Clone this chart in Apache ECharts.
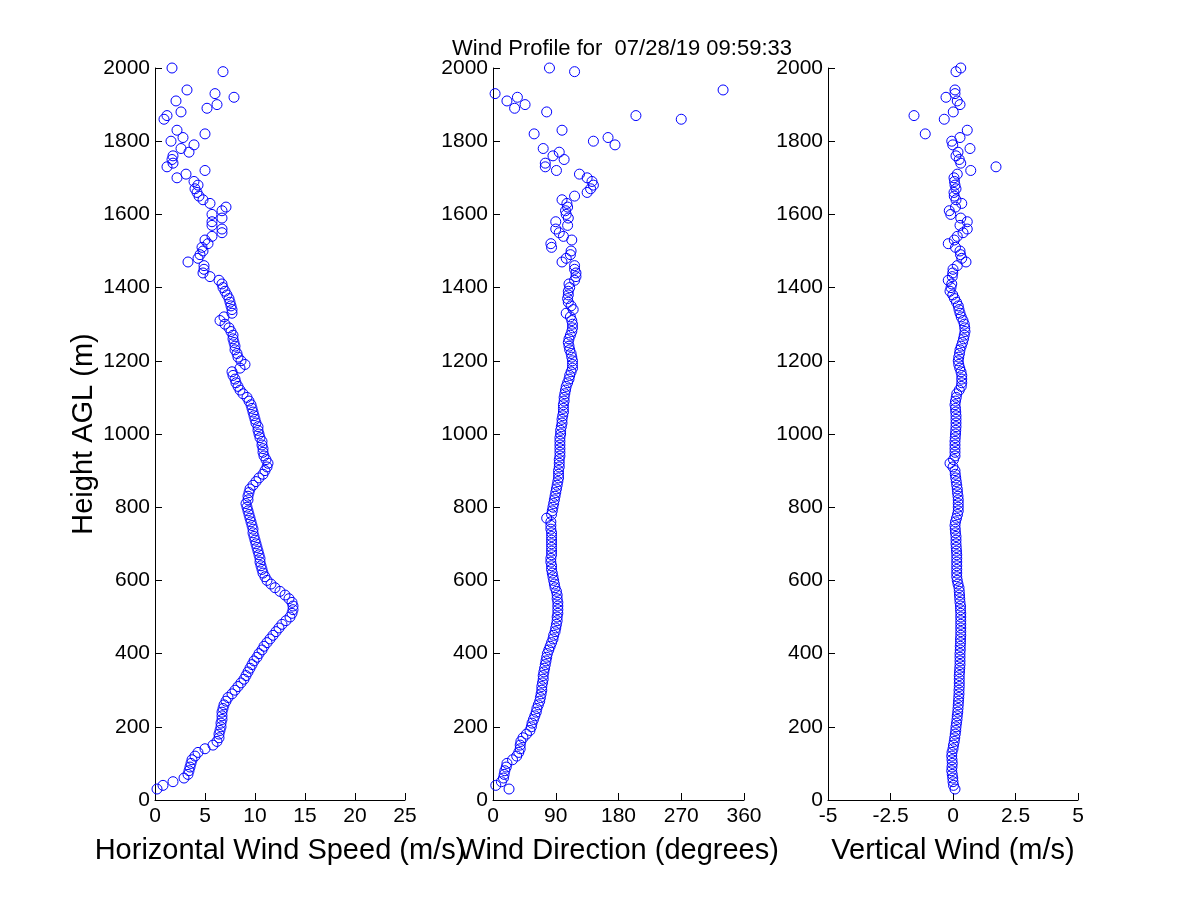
<!DOCTYPE html>
<html>
<head>
<meta charset="utf-8">
<title>Wind Profile</title>
<script src="https://cdn.jsdelivr.net/npm/echarts@6/dist/echarts.min.js"></script>
<style>
  html, body { margin: 0; padding: 0; background: #fff; }
  #main { width: 1200px; height: 900px; }
</style>
</head>
<body>
<div id="main"></div>
<script>
// heights of the range gates (m AGL), one row = 100 m
var heights = [
  30, 40, 50, 60, 70, 80, 90, 100, 110, 120,
  130, 140, 150, 160, 170, 180, 190, 200, 210, 220,
  230, 240, 250, 260, 270, 280, 290, 300, 310, 320,
  330, 340, 350, 360, 370, 380, 390, 400, 410, 420,
  430, 440, 450, 460, 470, 480, 490, 500, 510, 520,
  530, 540, 550, 560, 570, 580, 590, 600, 610, 620,
  630, 640, 650, 660, 670, 680, 690, 700, 710, 720,
  730, 740, 750, 760, 770, 780, 790, 800, 810, 820,
  830, 840, 850, 860, 870, 880, 890, 900, 910, 920,
  930, 940, 950, 960, 970, 980, 990, 1000, 1010, 1020,
  1030, 1040, 1050, 1060, 1070, 1080, 1090, 1100, 1110, 1120,
  1130, 1140, 1150, 1160, 1170, 1180, 1190, 1200, 1210, 1220,
  1230, 1240, 1250, 1260, 1270, 1280, 1290, 1300, 1310, 1320,
  1330, 1340, 1350, 1360, 1370, 1380, 1390, 1400, 1410, 1420,
  1430, 1440, 1450, 1460, 1470, 1480, 1490, 1500, 1510, 1520,
  1530, 1540, 1550, 1560, 1570, 1580, 1590, 1600, 1610, 1620,
  1630, 1640, 1650, 1660, 1670, 1680, 1690, 1700, 1710, 1720,
  1730, 1740, 1750, 1760, 1770, 1780, 1790, 1800, 1810, 1820,
  1830, 1840, 1850, 1860, 1870, 1880, 1890, 1900, 1910, 1920,
  1930, 1940, 1950, 1960, 1970, 1980, 1990, 2000
];

// horizontal wind speed (m/s)
var speed = [
  0.2, 0.8, 1.8, 2.9, 3.3, 3.4, 3.5, 3.6, 3.7, 4.0,
  4.3, 5.0, 5.8, 6.2, 6.4, 6.4, 6.5, 6.6, 6.6, 6.7,
  6.7, 6.7, 6.8, 6.9, 7.1, 7.3, 7.7, 8.0, 8.3, 8.6,
  8.9, 9.1, 9.3, 9.5, 9.7, 9.9, 10.2, 10.4, 10.7, 10.9,
  11.2, 11.5, 11.8, 12.1, 12.4, 12.7, 13.1, 13.5, 13.7, 13.8,
  13.8, 13.7, 13.4, 13.0, 12.5, 12.0, 11.6, 11.2, 11.0, 10.8,
  10.7, 10.6, 10.5, 10.5, 10.4, 10.3, 10.2, 10.1, 10.0, 9.9,
  9.8, 9.8, 9.7, 9.6, 9.5, 9.4, 9.3, 9.2, 9.1, 9.3,
  9.3, 9.4, 9.5, 9.8, 10.1, 10.4, 10.8, 11.0, 11.2, 11.3,
  11.1, 10.9, 10.8, 10.8, 10.7, 10.7, 10.5, 10.4, 10.3, 10.3,
  10.1, 10.0, 9.9, 9.8, 9.7, 9.6, 9.4, 9.2, 8.8, 8.5,
  8.3, 8.1, 8.0, 7.8, 7.7, 8.5, 9.0, 8.6, 8.3, 8.2,
  8.0, 8.0, 7.9, 7.8, 7.8, 7.6, 7.4, 7.0, 6.5, 6.9,
  7.7, 7.7, 7.6, 7.5, 7.4, 7.2, 7.0, 6.8, 6.7, 6.4,
  5.5, 4.8, 4.9, 4.9, 3.3, 4.3, 4.5, 4.8, 4.7, 5.3,
  5.0, 5.7, 6.7, 6.7, 5.7, 5.7, 6.7, 5.7, 6.7, 7.1,
  5.5, 4.8, 4.4, 4.2, 4.0, 4.3, 3.9, 2.2, 3.1, 5.0,
  1.2, 1.8, 1.7, 1.8, 3.4, 2.6, 3.9, 1.6, 2.8, 5.0,
  2.2, null, null, 0.9, 1.2, 2.6, 5.2, 6.2, 2.1, 7.9,
  6.0, 3.2, null, null, null, null, 6.8, 1.7
];

// wind direction (degrees)
var direction = [
  23, 4, 12, 15, 16, 17, 19, 20, 28, 34,
  37, 39, 39, 40, 43, 48, 53, 55, 56, 58,
  60, 62, 63, 65, 67, 68, 69, 70, 70, 71,
  72, 72, 73, 74, 75, 76, 77, 78, 80, 82,
  84, 86, 87, 89, 90, 91, 92, 92, 93, 93,
  93, 93, 92, 92, 91, 89, 88, 87, 86, 85,
  84, 84, 83, 83, 84, 84, 84, 84, 84, 84,
  84, 83, 83, 83, 77, 84, 85, 86, 87, 88,
  89, 90, 91, 92, 93, 94, 94, 94, 95, 95,
  95, 96, 96, 96, 96, 96, 96, 97, 97, 98,
  99, 99, 100, 101, 101, 101, 102, 102, 103, 104,
  105, 107, 109, 110, 112, 114, 114, 114, 113, 112,
  110, 109, 108, 109, 111, 113, 114, 114, 113, 111,
  105, 115, 112, 108, 107, 108, 108, 110, 109, 117,
  119, 119, 117, 117, 99, 105, 111, 112, 84, 83,
  113, 101, 95, 90, 107, 90, 108, 105, 104, 107,
  106, 99, 117, 135, 140, 144, 142, 135, 124, 91,
  75, 75, 102, 86, 95, 72, 175, 144, 165, 59,
  99, null, null, 270, 205, 77, 31, 46, 20, 35,
  3, 330, null, null, null, null, 117, 81
];

// vertical wind (m/s)
var vertical = [
  0.08, 0.02, 0.0, -0.01, -0.03, -0.05, -0.04, -0.03, -0.04, -0.05,
  -0.04, 0.0, 0.02, 0.05, 0.07, 0.09, 0.11, 0.12, 0.14, 0.16,
  0.17, 0.19, 0.2, 0.21, 0.22, 0.23, 0.24, 0.24, 0.25, 0.25,
  0.25, 0.25, 0.26, 0.27, 0.28, 0.28, 0.28, 0.28, 0.29, 0.29,
  0.3, 0.3, 0.31, 0.31, 0.31, 0.31, 0.31, 0.31, 0.31, 0.3,
  0.3, 0.28, 0.27, 0.26, 0.25, 0.24, 0.2, 0.17, 0.15, 0.15,
  0.15, 0.15, 0.15, 0.15, 0.15, 0.14, 0.13, 0.12, 0.12, 0.12,
  0.1, 0.09, 0.08, 0.1, 0.14, 0.18, 0.21, 0.21, 0.21, 0.21,
  0.2, 0.18, 0.17, 0.15, 0.13, 0.11, 0.09, 0.08, 0.0, -0.12,
  0.02, 0.08, 0.08, 0.08, 0.08, 0.08, 0.09, 0.1, 0.11, 0.12,
  0.12, 0.12, 0.12, 0.11, 0.1, 0.08, 0.1, 0.13, 0.15, 0.25,
  0.33, 0.35, 0.35, 0.35, 0.32, 0.27, 0.23, 0.21, 0.23, 0.26,
  0.28, 0.33, 0.38, 0.42, 0.45, 0.48, 0.47, 0.45, 0.4, 0.33,
  0.28, 0.24, 0.21, 0.14, 0.06, -0.01, -0.12, -0.08, -0.05, -0.19,
  -0.03, -0.01, 0.0, 0.17, 0.52, 0.35, 0.3, 0.28, 0.1, -0.19,
  0.05, 0.17, 0.4, 0.57, 0.28, 0.57, 0.31, -0.09, -0.15, 0.1,
  0.35, 0.12, 0.05, 0.04, 0.12, 0.08, 0.06, 0.04, 0.17, 0.71,
  1.72, 0.31, 0.25, 0.12, 0.2, 0.68, -0.01, -0.05, 0.28, -1.11,
  0.57, null, null, -0.35, -1.56, 0.01, null, 0.28, 0.17, -0.28,
  0.08, 0.08, null, null, null, null, 0.12, 0.31
];

var titleText = 'Wind Profile for  07/28/19 09:59:33';
var panelNames = ['Horizontal Wind Speed (m/s)', 'Wind Direction (degrees)', 'Vertical Wind (m/s)'];

var FONT = '"Liberation Sans", Arial, Helvetica, sans-serif';
var BLUE = '#0000ff';

// pair each value with its height, skipping missing gates
function toPoints(values) {
  var out = [];
  for (var i = 0; i < heights.length; i++) {
    if (values[i] !== null) out.push([values[i], heights[i]]);
  }
  return out;
}

function axisBase() {
  return {
    type: 'value',
    axisLine: { show: true, onZero: false, lineStyle: { color: '#000', width: 1 } },
    axisTick: { show: true, inside: true, length: 7, lineStyle: { color: '#000' } },
    axisLabel: {
      color: '#000', fontSize: 21, fontFamily: FONT,
      formatter: function (v) { return String(v); }   // no thousands separator
    },
    splitLine: { show: false },
    nameTextStyle: { color: '#000', fontSize: 29, fontFamily: FONT }
  };
}

function xAxis(idx, min, max, interval) {
  var a = axisBase();
  a.gridIndex = idx;
  a.min = min; a.max = max; a.interval = interval;
  a.name = panelNames[idx];
  a.nameLocation = 'middle';
  a.nameGap = 36;
  a.axisLabel.margin = 6;
  return a;
}

function yAxis(idx) {
  var a = axisBase();
  a.gridIndex = idx;
  a.min = 0; a.max = 2000; a.interval = 200;
  a.axisLabel.margin = 5;
  if (idx === 0) {
    a.name = 'Height AGL (m)';
    a.nameLocation = 'middle';
    a.nameGap = 57;
  }
  return a;
}

function series(idx, values) {
  return {
    type: 'scatter',
    xAxisIndex: idx,
    yAxisIndex: idx,
    symbol: 'circle',
    symbolSize: 10,
    itemStyle: { color: 'rgba(0,0,0,0)', borderColor: BLUE, borderWidth: 1, opacity: 1 },
    emphasis: { disabled: true },
    data: toPoints(values)
  };
}

var chart = echarts.init(document.getElementById('main'), null, { renderer: 'canvas' });

chart.setOption({
  backgroundColor: '#fff',
  animation: false,
  title: {
    text: titleText,
    left: 617,
    top: 33,
    textAlign: 'center',
    textStyle: { color: '#000', fontSize: 22, fontWeight: 'normal', fontFamily: FONT }
  },
  grid: [
    { left: 155, top: 68, width: 250, height: 732 },
    { left: 493, top: 68, width: 251, height: 732 },
    { left: 828, top: 68, width: 250, height: 732 }
  ],
  xAxis: [
    xAxis(0, 0, 25, 5),
    xAxis(1, 0, 360, 90),
    xAxis(2, -5, 5, 2.5)
  ],
  yAxis: [yAxis(0), yAxis(1), yAxis(2)],
  series: [
    series(0, speed),
    series(1, direction),
    series(2, vertical)
  ]
});
</script>
</body>
</html>
